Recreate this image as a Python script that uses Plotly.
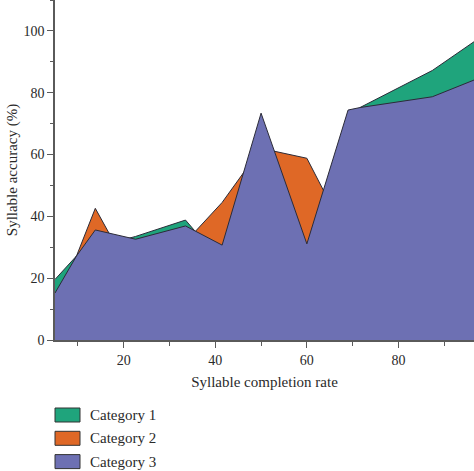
import plotly.graph_objects as go

# ---- data ----
completion_rate = [5, 9.7, 13.8, 22.6, 33.5, 41.5, 50, 60, 69, 71.6, 87.4, 96.5]
category_1 = [19.6, 27.2, 30.0, 33.5, 38.8, 25.0, 55.0, 28.0, 70.0, 75.2, 87.2, 96.5]
category_2 = [12.0, 27.2, 42.6, 19.0, 31.7, 44.5, 62.0, 58.8, 33.0, 60.0, 70.0, 75.0]
category_3 = [15.2, 27.2, 35.6, 32.6, 36.9, 30.7, 73.4, 31.1, 74.4, 75.2, 78.7, 84.1]
series_names = ["Category 1", "Category 2", "Category 3"]
x_ticks = [20, 40, 60, 80]
y_ticks = [0, 20, 40, 60, 80, 100]

colors = ["#1fa47c", "#df6826", "#6d70b3"]
edge = "#2b2b38"
font_family = "Liberation Serif, Times New Roman, serif"
text_color = "#2a2a2a"
axis_color = "#5a5a5a"

W, H = 474, 471
ML, MR, MT, MB = 55, 0, 0, 131
PW, PH = W - ML - MR, H - MT - MB

fig = go.Figure()
for name, vals, col in zip(series_names, [category_1, category_2, category_3], colors):
    fig.add_trace(go.Scatter(
        x=completion_rate, y=vals, name=name, mode="lines",
        fill="tozeroy", fillcolor=col,
        line=dict(color=edge, width=1), showlegend=False,
    ))

# legend drawn as swatches + text below the plot
def px_to_paper(px, py):
    return (px - ML) / PW, (PH + MT - py) / PH

shapes, annotations = [], []
for i, (name, col) in enumerate(zip(series_names, colors)):
    top = 408 + i * 23.3
    x0, y0 = px_to_paper(55, top)
    x1, y1 = px_to_paper(80, top + 14)
    shapes.append(dict(type="rect", xref="paper", yref="paper",
                       x0=x0, x1=x1, y0=y1, y1=y0, fillcolor=col,
                       line=dict(color="#333333", width=1)))
    tx, ty = px_to_paper(88, top + 7)
    annotations.append(dict(text=name, xref="paper", yref="paper", x=tx, y=ty,
                            xanchor="left", yanchor="middle", showarrow=False,
                            font=dict(size=15, color=text_color, family=font_family)))

fig.update_layout(
    width=W, height=H,
    margin=dict(l=ML, r=MR, t=MT, b=MB, pad=0),
    paper_bgcolor="white", plot_bgcolor="white",
    font=dict(family=font_family, size=14, color=text_color),
    shapes=shapes, annotations=annotations,
    showlegend=False,
)
fig.update_xaxes(
    range=[5, 96.5], tickvals=x_ticks, showgrid=False, zeroline=False,
    showline=True, linecolor=axis_color, linewidth=1.5,
    ticks="outside", ticklen=6, tickcolor=axis_color, tickwidth=1.2,
    minor=dict(ticks="outside", ticklen=4, dtick=10, tick0=0, tickcolor=axis_color, tickwidth=1.2),
    tickfont=dict(size=14),
    title=dict(text="Syllable completion rate", font=dict(size=15), standoff=10),
)
fig.update_yaxes(
    range=[0, 110], tickvals=y_ticks, showgrid=False, zeroline=False,
    showline=True, linecolor=axis_color, linewidth=1.5,
    ticks="outside", ticklen=6, tickcolor=axis_color, tickwidth=1.2,
    minor=dict(ticks="outside", ticklen=3.5, dtick=10, tick0=0, tickcolor=axis_color, tickwidth=1.2),
    tickfont=dict(size=14),
    title=dict(text="Syllable accuracy (%)", font=dict(size=15), standoff=2),
)

# remove the page's default body margin so the figure fills the window exactly
fig.write_html(
    "out.html",
    config={"displayModeBar": False},
    post_script="document.body.style.margin='0';document.body.style.overflow='hidden';",
)
